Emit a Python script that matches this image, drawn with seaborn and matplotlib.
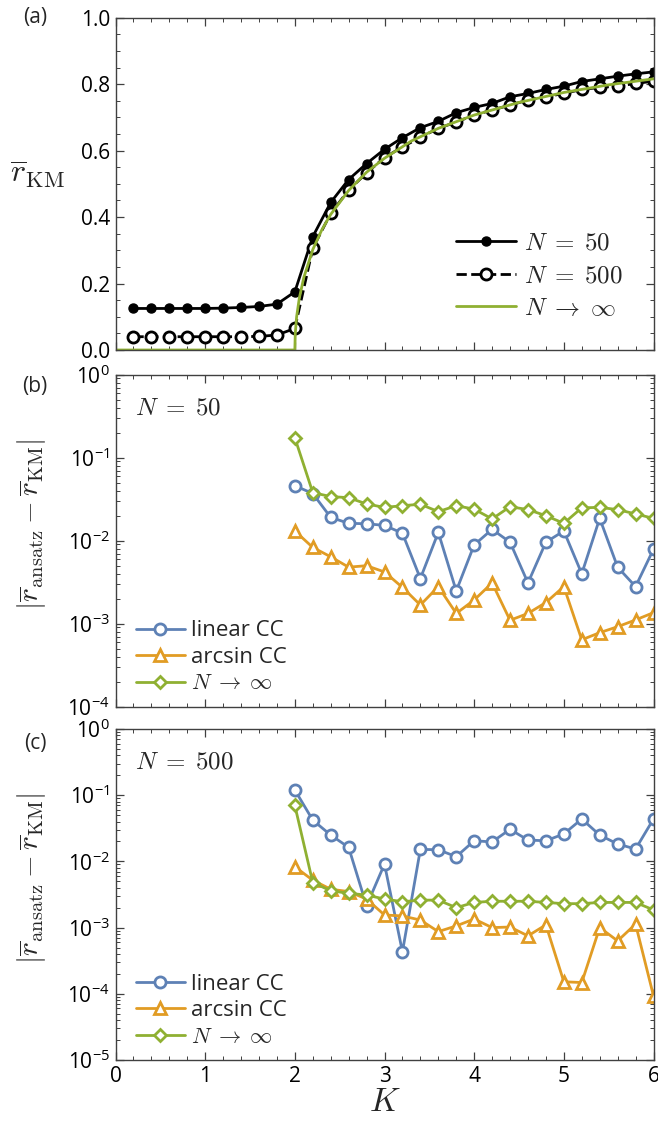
import numpy as np
import pandas as pd
import matplotlib.pyplot as plt
import seaborn as sns
from matplotlib.ticker import MultipleLocator, LogLocator, NullFormatter, FuncFormatter

# --- dane ---
K_a = [0.2, 0.4, 0.6, 0.8, 1.0, 1.2, 1.4, 1.6, 1.8, 2.0,
       2.2, 2.4, 2.6, 2.8, 3.0, 3.2, 3.4, 3.6, 3.8, 4.0,
       4.2, 4.4, 4.6, 4.8, 5.0, 5.2, 5.4, 5.6, 5.8, 6.0]
r_n50 = [0.125, 0.125, 0.125, 0.125, 0.125, 0.126, 0.128, 0.131, 0.138, 0.175,
         0.341, 0.444, 0.513, 0.561, 0.604, 0.639, 0.669, 0.688, 0.714, 0.730,
         0.742, 0.762, 0.772, 0.784, 0.794, 0.808, 0.816, 0.824, 0.831, 0.837]
r_n500 = [0.040, 0.040, 0.040, 0.040, 0.040, 0.040, 0.040, 0.041, 0.045, 0.065,
          0.306, 0.411, 0.481, 0.533, 0.579, 0.611, 0.640, 0.667, 0.686, 0.707,
          0.722, 0.737, 0.752, 0.762, 0.772, 0.784, 0.790, 0.794, 0.802, 0.809]
K_inf = [0.0, 2.0, 2.005, 2.02, 2.05, 2.1, 2.2, 2.3, 2.4, 2.6, 2.8, 3.0,
         3.3, 3.6, 4.0, 4.5, 5.0, 5.5, 6.0]
r_inf = [0.0, 0.0, 0.05, 0.10, 0.156, 0.218, 0.302, 0.361, 0.408, 0.480, 0.535, 0.577,
         0.629, 0.667, 0.707, 0.745, 0.775, 0.798, 0.816]

K_err = [2.0, 2.2, 2.4, 2.6, 2.8, 3.0, 3.2, 3.4, 3.6, 3.8, 4.0,
         4.2, 4.4, 4.6, 4.8, 5.0, 5.2, 5.4, 5.6, 5.8, 6.0]
b_lin = [0.046, 0.037, 0.0191, 0.0162, 0.016, 0.0153, 0.0123, 0.0035, 0.0126, 0.00248, 0.0089,
         0.0137, 0.0096, 0.0031, 0.0096, 0.0131, 0.0040, 0.0186, 0.0048, 0.0028, 0.0079]
b_arc = [0.0131, 0.0083, 0.0064, 0.0048, 0.0050, 0.0042, 0.00274, 0.00168, 0.0028, 0.00133, 0.00193,
         0.0031, 0.0011, 0.00133, 0.0018, 0.0028, 0.00064, 0.00078, 0.00092, 0.00111, 0.00136]
b_inf = [0.174, 0.038, 0.034, 0.033, 0.0277, 0.0252, 0.0264, 0.0275, 0.0224, 0.0264, 0.024,
         0.0183, 0.0257, 0.0237, 0.020, 0.0162, 0.0249, 0.0252, 0.0237, 0.021, 0.0186]
c_lin = [0.12, 0.042, 0.025, 0.0163, 0.00214, 0.0091, 0.00043, 0.0152, 0.015, 0.0118, 0.0205,
         0.0197, 0.0305, 0.021, 0.0205, 0.026, 0.0437, 0.025, 0.0183, 0.0154, 0.0437]
c_arc = [0.0083, 0.0052, 0.0038, 0.0035, 0.0027, 0.00155, 0.0015, 0.0013, 0.00087, 0.00106, 0.00135,
         0.0010, 0.00102, 0.00075, 0.0011, 0.000152, 0.000148, 0.0010, 0.00063, 0.00113, 0.000093]
c_inf = [0.070, 0.0048, 0.0036, 0.0033, 0.0031, 0.0027, 0.00246, 0.0026, 0.0026, 0.0020, 0.0024,
         0.0025, 0.0025, 0.0025, 0.0024, 0.0023, 0.0023, 0.0024, 0.0024, 0.0024, 0.00185]

BLUE, ORANGE, GREEN = '#5E81B5', '#E19C24', '#8FB032'
FRAME = '#404040'

sns.set_style("ticks")
plt.rcParams.update({
    'font.family': ['Open Sans', 'DejaVu Sans'],
    'mathtext.fontset': 'cm',
    'font.size': 14,
    'axes.edgecolor': FRAME,
    'axes.linewidth': 1.0,
    'xtick.color': FRAME, 'ytick.color': FRAME,
    'xtick.labelcolor': 'black', 'ytick.labelcolor': 'black',
    'xtick.direction': 'in', 'ytick.direction': 'in',
    'xtick.top': True, 'ytick.right': True,
})

fig = plt.figure(figsize=(6.58, 11.21), dpi=100)
L, W = 115.5 / 658, 538 / 658
H = 1121
ax_a = fig.add_axes([L, 1 - 350 / H, W, 332.3 / H])
ax_b = fig.add_axes([L, 1 - 706.7 / H, W, 332 / H])
ax_c = fig.add_axes([L, 1 - 1060 / H, W, 331 / H])

LAB_INF = r'$N\;\rightarrow\;\infty$'


def style_ticks(ax):
    ax.tick_params(which='major', length=6, width=0.9, labelsize=15, pad=4)
    ax.tick_params(which='minor', length=3, width=0.7)
    ax.xaxis.set_major_locator(MultipleLocator(1))
    ax.xaxis.set_minor_locator(MultipleLocator(0.2))
    ax.set_xlim(0, 6)


# --- (a) ---
df_a = pd.DataFrame({'K': K_a, 'n50': r_n50, 'n500': r_n500})
sns.lineplot(data=df_a, x='K', y='n50', ax=ax_a, color='black', lw=2,
             marker='o', markersize=6.5, markerfacecolor='black',
             markeredgecolor='black', markeredgewidth=1, label=r'$N\;=\;50$')
sns.lineplot(data=df_a, x='K', y='n500', ax=ax_a, color='black', lw=2, linestyle='--',
             marker='o', markersize=8, markerfacecolor='white',
             markeredgecolor='black', markeredgewidth=2, label=r'$N\;=\;500$')
sns.lineplot(x=K_inf, y=r_inf, ax=ax_a, color=GREEN, lw=2, label=LAB_INF)
style_ticks(ax_a)
ax_a.set_ylim(0, 1)
ax_a.yaxis.set_major_locator(MultipleLocator(0.2))
ax_a.yaxis.set_minor_locator(MultipleLocator(0.05))
ax_a.yaxis.set_major_formatter(FuncFormatter(lambda v, p: f'{v:.1f}'))
ax_a.xaxis.set_major_formatter(NullFormatter())
ax_a.set_xlabel('')
ax_a.set_ylabel(r'$\overline{r}_{\mathrm{KM}}$', fontsize=23, rotation=0)
ax_a.yaxis.set_label_coords(-0.145, 0.48)
ax_a.legend(loc='lower right', frameon=False, fontsize=18, handlelength=2.4,
            labelspacing=0.3, handletextpad=0.3, bbox_to_anchor=(0.985, 0.02))
fig.text(35 / 658, 1 - 18 / H, '(a)', fontsize=15, ha='center', va='center')


# --- (b), (c) ---
def err_panel(ax, lin, arc, inf, ymin, title, tag, tag_y):
    df = pd.DataFrame({'K': K_err, 'lin': lin, 'arc': arc, 'inf': inf})
    for col, c, m, ms, lab in [('lin', BLUE, 'o', 8, 'linear CC'),
                               ('arc', ORANGE, '^', 9, 'arcsin CC'),
                               ('inf', GREEN, 'D', 6.5, LAB_INF)]:
        sns.lineplot(data=df, x='K', y=col, ax=ax, color=c, lw=2, marker=m,
                     markersize=ms, markerfacecolor='white', markeredgecolor=c,
                     markeredgewidth=2, label=lab)
    style_ticks(ax)
    ax.set_yscale('log')
    ax.set_ylim(ymin, 1)
    ax.yaxis.set_major_locator(LogLocator(base=10, numticks=12))
    ax.yaxis.set_minor_locator(LogLocator(base=10, subs=np.arange(2, 10), numticks=12))
    ax.yaxis.set_minor_formatter(NullFormatter())
    ax.yaxis.set_major_formatter(FuncFormatter(
        lambda v, p: r'$\mathregular{10^{%d}}$' % int(round(np.log10(v)))))
    ax.set_xlabel('')
    ax.set_ylabel(r'$|\overline{r}_{\mathrm{ansatz}} - \overline{r}_{\mathrm{KM}}|$', fontsize=21)
    ax.yaxis.set_label_coords(-0.125, 0.55)
    ax.legend(loc='lower left', frameon=False, fontsize=16, handlelength=2.2,
              labelspacing=0.25, handletextpad=0.3, borderaxespad=0.15,
              bbox_to_anchor=(0.015, 0.0))
    ax.text(0.036, 0.9, title, transform=ax.transAxes, fontsize=18, va='center')
    fig.text(35 / 658, 1 - tag_y / H, tag, fontsize=15, ha='center', va='center')


err_panel(ax_b, b_lin, b_arc, b_inf, 1e-4, r'$N\;=\;50$', '(b)', 387)
ax_b.xaxis.set_major_formatter(NullFormatter())
err_panel(ax_c, c_lin, c_arc, c_inf, 1e-5, r'$N\;=\;500$', '(c)', 743)
ax_c.set_xlabel('$K$', fontsize=24)
ax_c.xaxis.set_label_coords(0.5, -0.078)

fig.savefig('out.png', dpi=100)
